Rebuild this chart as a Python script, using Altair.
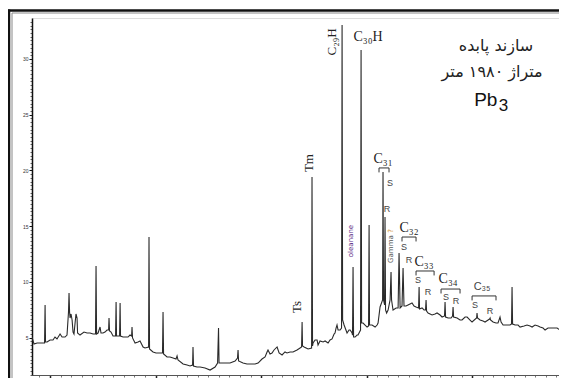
import altair as alt
import pandas as pd

# Retention time (min) and detector response
trace_t = [8.29, 8.48, 8.77, 9.05, 9.34, 9.48, 9.53, 9.57, 9.72, 10.00, 10.28, 10.47, 10.66, 10.95, 11.14, 11.42, 11.61, 11.75, 11.80, 11.85,
           11.90, 11.99, 12.09, 12.18, 12.27, 12.42, 12.46, 12.56, 12.61, 12.84, 13.22, 13.51, 13.79, 14.08, 14.31, 14.36, 14.41, 14.55, 14.74, 14.83,
           15.02, 15.21, 15.40, 15.55, 15.59, 15.64, 15.78, 15.97, 16.21, 16.26, 16.30, 16.45, 16.59, 16.64, 16.68, 16.92, 17.11, 17.39, 17.58, 17.73,
           17.77, 17.82, 18.06, 18.34, 18.53, 18.82, 19.00, 19.34, 19.38, 19.43, 19.76, 20.05, 20.24, 20.66, 20.71, 20.76, 21.09, 21.37, 21.66, 21.94,
           22.04, 22.13, 22.61, 22.99, 23.27, 23.51, 23.55, 23.60, 23.93, 24.22, 24.69, 25.17, 25.64, 25.88, 25.97, 26.02, 26.30, 26.68, 27.06, 27.54,
           27.77, 27.82, 27.87, 28.29, 28.67, 28.96, 29.43, 29.72, 30.09, 30.38, 30.57, 30.66, 30.85, 31.04, 31.23, 31.52, 31.71, 31.99, 32.27, 32.46,
           32.75, 33.03, 33.41, 33.70, 33.84, 33.89, 33.93, 34.08, 34.27, 34.46, 34.79, 34.83, 34.88, 34.93, 35.12, 35.31, 35.40, 35.59, 35.88, 36.07,
           36.35, 36.54, 36.73, 36.92, 37.01, 37.11, 37.20, 37.30, 37.49, 37.63, 37.68, 37.73, 37.87, 38.15, 38.34, 38.44, 38.63, 38.67, 38.72, 38.77,
           38.91, 39.10, 39.19, 39.43, 39.48, 39.53, 39.67, 39.86, 40.05, 40.19, 40.24, 40.28, 40.52, 40.81, 41.00, 41.09, 41.28, 41.52, 41.56, 41.61,
           41.71, 41.75, 41.80, 41.90, 42.04, 42.23, 42.32, 42.37, 42.51, 42.80, 42.99, 43.08, 43.18, 43.36, 43.46, 43.55, 43.74, 43.93, 44.12, 44.31,
           44.50, 44.69, 44.93, 44.98, 45.02, 45.26, 45.45, 45.59, 45.64, 45.69, 45.83, 46.21, 46.49, 46.68, 46.97, 47.16, 47.39, 47.44, 47.49, 47.73,
           48.01, 48.15, 48.20, 48.25, 48.58, 48.86, 49.05, 49.34, 49.53, 49.81, 50.00, 50.43, 50.47, 50.52, 50.76, 51.04, 51.23, 51.52, 51.66, 51.71,
           51.75, 51.99, 52.27, 52.46, 52.65, 52.75, 52.94, 53.32, 53.60, 53.74, 53.79, 53.84, 54.08, 54.36, 54.55, 54.93, 55.21, 55.50, 55.69, 55.97,
           56.26, 56.45, 56.73, 56.92, 57.20, 57.39, 57.68, 58.06, 58.34, 58.63, 59.00]
trace_a = [5.04, 4.42, 4.51, 4.51, 4.51, 4.51, 7.92, 4.60, 4.60, 4.78, 4.78, 5.04, 4.87, 5.31, 5.04, 5.04, 5.22, 7.29, 8.99, 7.29,
           6.75, 7.11, 6.57, 5.49, 5.31, 6.75, 7.11, 6.75, 5.40, 5.22, 5.49, 5.40, 5.40, 5.31, 5.31, 11.42, 5.31, 5.40, 5.94, 5.40,
           5.40, 5.49, 5.67, 5.67, 6.75, 5.58, 5.49, 5.13, 5.13, 8.19, 5.13, 5.13, 5.13, 8.10, 5.13, 5.04, 5.04, 5.04, 5.22, 5.13,
           5.94, 4.96, 4.51, 4.60, 4.69, 4.15, 4.06, 4.15, 14.02, 3.97, 3.70, 3.61, 3.61, 3.61, 7.29, 3.52, 3.25, 3.25, 3.16, 3.07,
           3.34, 2.98, 2.62, 2.53, 2.44, 2.53, 4.15, 2.44, 2.35, 2.35, 2.26, 2.08, 2.35, 2.71, 5.85, 2.71, 2.71, 2.71, 2.71, 2.89,
           3.16, 3.88, 2.89, 2.71, 2.62, 2.62, 2.62, 2.71, 3.07, 3.25, 3.70, 3.88, 3.52, 3.61, 3.88, 4.15, 3.61, 3.43, 3.70, 3.61,
           3.70, 3.70, 3.88, 4.06, 4.15, 6.39, 4.24, 4.15, 4.06, 3.97, 4.06, 19.41, 4.24, 4.51, 4.78, 4.78, 4.33, 4.69, 4.60, 4.69,
           4.51, 4.78, 4.87, 5.31, 5.40, 5.85, 6.12, 5.67, 5.67, 5.85, 33.05, 6.57, 6.12, 5.40, 5.67, 5.67, 5.40, 5.22, 11.33, 5.04,
           5.04, 5.22, 5.22, 5.67, 30.81, 6.30, 6.30, 6.12, 5.94, 6.03, 15.10, 6.12, 6.12, 5.94, 6.12, 6.30, 7.74, 8.37, 19.86, 8.37,
           7.92, 15.82, 7.47, 7.20, 7.47, 8.37, 10.88, 8.37, 7.47, 7.65, 7.65, 12.59, 7.65, 7.83, 11.24, 7.83, 7.83, 7.92, 8.01, 8.10,
           7.83, 7.74, 7.65, 9.53, 7.56, 7.65, 7.47, 7.47, 8.37, 7.38, 7.20, 7.02, 7.11, 7.20, 7.02, 6.84, 6.93, 8.19, 6.84, 6.75,
           6.75, 6.93, 7.74, 6.84, 6.75, 6.57, 6.57, 6.84, 6.84, 6.57, 6.39, 6.75, 7.20, 6.75, 6.57, 6.48, 6.39, 6.57, 6.66, 6.75,
           6.57, 6.39, 6.30, 6.30, 6.84, 6.39, 6.12, 6.12, 6.12, 6.21, 9.53, 6.21, 6.12, 6.12, 5.94, 6.03, 6.12, 6.03, 5.94, 6.12,
           6.03, 5.94, 5.85, 5.67, 5.85, 5.85, 5.85, 5.85, 5.67, 5.67, 5.49]

# Axis tick positions
y_ticks = [k / 3 for k in range(5, 101)]
x_ticks = list(range(9, 59))

# Horizontal peak labels (homologue names)
hlab_text = ["C₃₀H", "C₃₁", "C₃₂", "C₃₃", "C₃₄"]
hlab_t = [40.14, 41.56, 44.03, 45.45, 47.73]
hlab_a = [31.98, 21.02, 14.83, 11.78, 10.25]

c35_text = ["C₃₅"]
c35_t = [50.95]
c35_a = [9.53]

# Vertical peak labels
vlab_text = ["C₂₉H", "Tm", "Ts"]
vlab_t = [36.73, 34.55, 33.41]
vlab_a = [31.53, 20.66, 7.74]

# S / R epimer marks
sr_text = ["S", "R", "S", "R", "S", "R", "S", "R", "S", "R"]
sr_t = [42.23, 41.94, 43.55, 44.03, 44.88, 45.83, 47.54, 48.48, 50.28, 51.71]
sr_a = [18.87, 16.54, 13.12, 11.96, 10.16, 9.08, 8.64, 8.28, 7.92, 7.38]

# Brackets over S/R pairs
br_left = [41.18, 43.36, 44.69, 47.06, 50.00]
br_right = [42.13, 44.69, 46.40, 48.86, 52.27]
br_level = [20.22, 14.02, 10.97, 9.35, 8.73]

# Title block (Persian)
title_lines = ["سازند پابده", "متراژ  ۱۹۸۰  متر"]
title_t = [52.27, 51.90]
title_a = [31.17, 28.83]
well_text = ["Pb", "3"]
well_t = [51.30, 52.98]
well_a = [26.30, 25.75]

trace_df = pd.DataFrame({"t": trace_t, "a": trace_a})
xs = alt.Scale(domain=[8.29, 58.24], nice=False, zero=False)
ys = alt.Scale(domain=[1.634, 33.68], nice=False, zero=False)

is_major_y = "abs(datum.value - round(datum.value / 5) * 5) < 0.01"
is_major_x = "abs(datum.value - round(datum.value / 10) * 10) < 0.01"

y_axis = alt.Axis(
    orient="left", values=y_ticks, labelFontSize=5, labelPadding=1,
    labelExpr=f"({is_major_y}) ? format(round(datum.value), 'd') : ''",
    tickSize={"condition": {"test": is_major_y, "value": 3}, "value": 2},
    tickColor={"condition": {"test": is_major_y, "value": "#111"}, "value": "#666"},
    domainColor="#111", domainWidth=1.5, labelColor="#333", grid=False, title=None,
)
x_axis = alt.Axis(
    orient="bottom", values=x_ticks, labels=False,
    tickSize={"condition": {"test": is_major_x, "value": 3}, "value": 2},
    tickWidth={"condition": {"test": is_major_x, "value": 1.5}, "value": 1},
    tickColor={"condition": {"test": is_major_x, "value": "#222"}, "value": "#777"},
    domainColor="#555", domainWidth=1.2, grid=False, title=None,
)

def pos(tcol="t", acol="a"):
    return dict(x=alt.X(f"{tcol}:Q", scale=xs, axis=x_axis), y=alt.Y(f"{acol}:Q", scale=ys, axis=y_axis))

trace = alt.Chart(trace_df).mark_line(color="#2a2a2a", strokeWidth=1.1, clip=True).encode(**pos())

def txt(df, **kw):
    return alt.Chart(df).mark_text(**kw).encode(text="s:N", **pos())

hlab = txt(pd.DataFrame({"t": hlab_t, "a": hlab_a, "s": hlab_text}),
           font="Liberation Serif", fontSize=14, fill="#222")
c35 = txt(pd.DataFrame({"t": c35_t, "a": c35_a, "s": c35_text}),
          font="Liberation Sans", fontSize=11, fill="#444")
vlab = txt(pd.DataFrame({"t": vlab_t, "a": vlab_a, "s": vlab_text}),
           font="Liberation Serif", fontSize=13, angle=270, fill="#222")
sr = txt(pd.DataFrame({"t": sr_t, "a": sr_a, "s": sr_text}),
         font="Liberation Sans", fontSize=9, fill="#444")
olean = txt(pd.DataFrame({"t": [38.53], "a": [13.66], "s": ["oleanane"]}),
            font="DejaVu Sans", fontSize=7, angle=270, fill="#5b2a86")
gamma = txt(pd.DataFrame({"t": [42.32], "a": [12.94], "s": ["Gamma"]}),
            font="DejaVu Sans", fontSize=7, angle=270, fill="#555")
gq = txt(pd.DataFrame({"t": [42.32], "a": [14.56], "s": ["?"]}),
         font="DejaVu Sans", fontSize=7, angle=270, fill="#d08a1a")

br_rows = []
for i, (l, r, lv) in enumerate(zip(br_left, br_right, br_level)):
    br_rows += [{"g": i, "o": 0, "t": l, "a": lv - 0.4}, {"g": i, "o": 1, "t": l, "a": lv},
                {"g": i, "o": 2, "t": r, "a": lv}, {"g": i, "o": 3, "t": r, "a": lv - 0.4}]
brackets = alt.Chart(pd.DataFrame(br_rows)).mark_line(color="#333", strokeWidth=1).encode(
    detail="g:N", order="o:Q", **pos())

title = txt(pd.DataFrame({"t": title_t, "a": title_a, "s": title_lines}),
            font="DejaVu Sans", fontSize=16, fill="#222")
well = alt.Chart(pd.DataFrame({"t": well_t, "a": well_a, "s": well_text, "f": [19, 17]})).mark_text(
    font="Liberation Sans", fill="#111").encode(text="s:N", size=alt.Size("f:Q", scale=None, legend=None), **pos())

one = pd.DataFrame({"k": [0]})
top_outer = alt.Chart(one).mark_rule(color="#111", strokeWidth=2.5).encode(
    x=alt.value(-24.5), x2=alt.value(700), y=alt.value(-7.5))
left_outer = alt.Chart(one).mark_rule(color="#111", strokeWidth=2.5).encode(
    x=alt.value(-23), y=alt.value(-8.5), y2=alt.value(600))
top_inner = alt.Chart(one).mark_rule(color="#888", strokeWidth=1).encode(
    x=alt.value(-20), x2=alt.value(700), y=alt.value(-5))
left_inner = alt.Chart(one).mark_rule(color="#888", strokeWidth=1).encode(
    x=alt.value(-20), y=alt.value(-5), y2=alt.value(600))

chart = alt.layer(
    top_outer, left_outer, top_inner, left_inner, trace, hlab, c35, vlab, sr, olean, gamma, gq,
    brackets, title, well
).properties(
    width=527, height=357, autosize=alt.AutoSizeParams(type="none"),
    padding={"left": 24, "top": 10, "right": 0, "bottom": 3},
).configure_view(strokeWidth=0, stroke="transparent").configure(background="white")

chart.save("out.html", embed_options={"renderer": "svg", "actions": False})
